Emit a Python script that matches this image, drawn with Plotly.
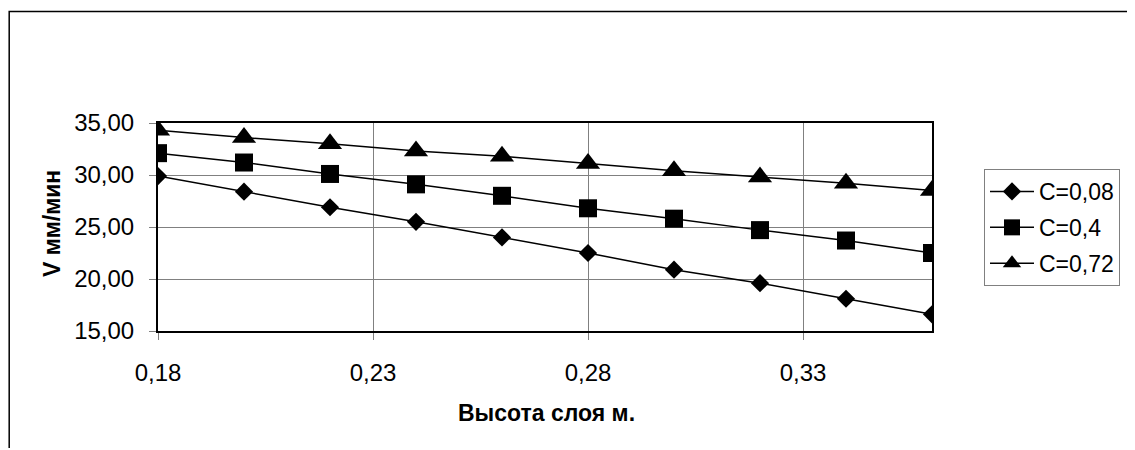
import plotly.graph_objects as go

x_vals = [0.18, 0.20, 0.22, 0.24, 0.26, 0.28, 0.30, 0.32, 0.34, 0.36]
c008 = [29.9, 28.4, 26.9, 25.5, 24.0, 22.5, 20.9, 19.6, 18.1, 16.6]
c04 = [32.1, 31.2, 30.1, 29.1, 28.0, 26.8, 25.8, 24.7, 23.7, 22.5]
c072 = [34.3, 33.6, 33.0, 32.3, 31.8, 31.1, 30.4, 29.8, 29.2, 28.5]
names = ["C=0,08", "C=0,4", "C=0,72"]
x_ticks = [0.18, 0.23, 0.28, 0.33]
y_ticks = [15, 20, 25, 30, 35]

OFF = 8  # page body margin
W, H = 1135 - OFF, 440
L, R, T, B = 158, 932, 123, 331  # reference pixel coordinates of plot area
font = "Liberation Sans, Arial, sans-serif"

def px(x):
    return (x - L) / (R - L)

def py(y):
    return (B - y) / (B - T)

fig = go.Figure()
series = [(c008, "diamond", 14), (c04, "square", 18), (c072, "triangle-up", 21)]
for i, (vals, sym, sz) in enumerate(series):
    fig.add_trace(go.Scatter(
        x=x_vals, y=vals, name=names[i], mode="lines+markers",
        line=dict(color="black", width=1.5),
        marker=dict(symbol=sym, size=sz, color="black"),
        legendgroup=str(i),
    ))

fig.update_layout(
    width=W, height=H,
    margin=dict(l=L - OFF, r=1135 - R, t=T - OFF, b=H - (B - OFF)),
    paper_bgcolor="white", plot_bgcolor="white",
    separators=", ",
    font=dict(family=font, size=24, color="black"),
    showlegend=True,
    legend=dict(
        x=px(984), y=py(169), xanchor="left", yanchor="top",
        bordercolor="#808080", borderwidth=1,
        font=dict(size=23), tracegroupgap=3,
        bgcolor="white", itemwidth=44,
    ),
    xaxis=dict(
        range=[0.18, 0.36], tickvals=x_ticks, tickformat=".2f",
        showgrid=True, gridcolor="#808080", gridwidth=1,
        showline=True, linecolor="black", linewidth=2, mirror=True,
        ticks="outside", ticklen=7, tickcolor="#808080",
        ticklabelstandoff=12, zeroline=False,
    ),
    yaxis=dict(
        range=[15, 35], tickvals=y_ticks, tickformat=".2f",
        showgrid=True, gridcolor="#808080", gridwidth=1,
        showline=True, linecolor="black", linewidth=2, mirror=True,
        ticks="outside", ticklen=7, tickcolor="#808080",
        ticklabelstandoff=10, zeroline=False,
    ),
    annotations=[
        dict(text="<b>V мм/мин</b>", x=px(52), y=py(224), xref="paper", yref="paper",
             showarrow=False, textangle=-90, font=dict(size=23),
             xanchor="center", yanchor="middle"),
        dict(text="<b>Высота слоя м.</b>", x=px(546), y=py(413), xref="paper", yref="paper",
             showarrow=False, font=dict(size=23),
             xanchor="center", yanchor="middle"),
    ],
    shapes=[
        dict(type="rect", xref="paper", yref="paper",
             x0=px(9.2), x1=px(1150), y0=py(480), y1=py(11.5),
             line=dict(color="black", width=1.5), layer="below"),
    ],
)

fig.write_html("out.html")
